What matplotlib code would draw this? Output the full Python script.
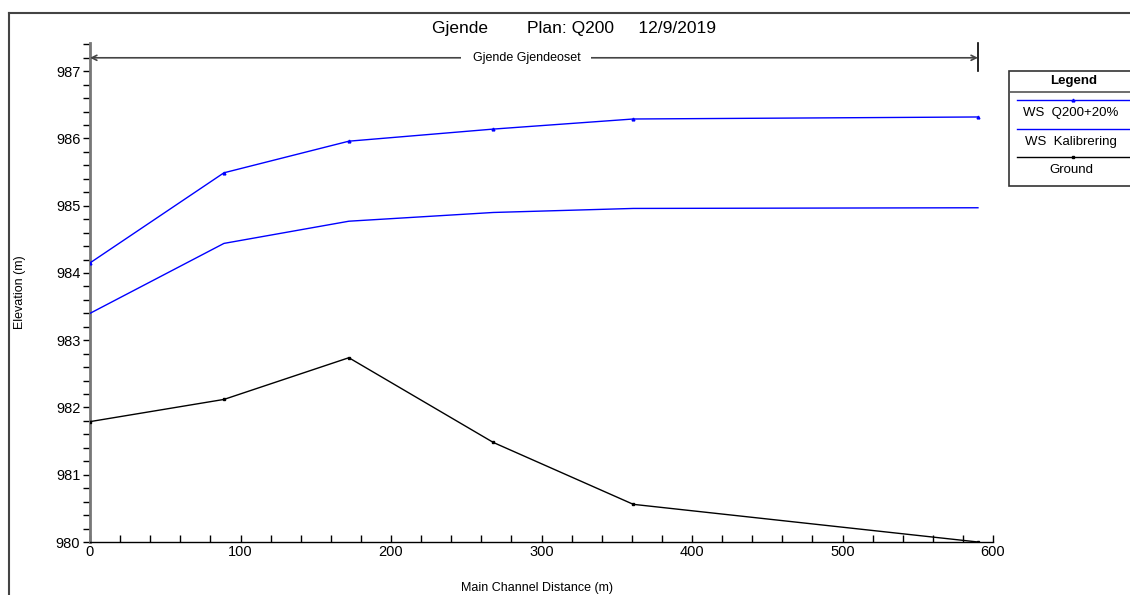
import matplotlib.pyplot as plt
from matplotlib.lines import Line2D
from matplotlib.patches import Rectangle
from matplotlib.ticker import MultipleLocator

plt.rcParams['font.family'] = ['Liberation Sans', 'DejaVu Sans']

# ----------- Profile data -----------
stations = [0, 89, 172, 268, 361, 590]
ws_q200_20 = [984.15, 985.49, 985.96, 986.14, 986.29, 986.32]
ws_kalibrering = [983.40, 984.44, 984.77, 984.90, 984.96, 984.97]
ground = [981.79, 982.12, 982.74, 981.48, 980.56, 980.00]

title = "Gjende        Plan: Q200     12/9/2019"
reach_name = "Gjende Gjendeoset"

W, H = 1130, 595
fig = plt.figure(figsize=(W / 100, H / 100), dpi=100)


def fx(px):
    return px / W


def fy(py):
    return 1 - py / H


ax = fig.add_axes([fx(90), fy(542), fx(993) - fx(90), fy(43) - fy(542)])

ax.plot(stations, ws_q200_20, color='#0000ff', lw=1.0, marker='^', ms=2, zorder=3)
ax.plot(stations, ws_kalibrering, color='#0000ff', lw=1.0, zorder=3)
ax.plot(stations, ground, color='black', lw=1.0, marker='s', ms=2, zorder=3)

ax.set_xlim(0, 600)
ax.set_ylim(980, 987.42)
ax.xaxis.set_major_locator(MultipleLocator(100))
ax.xaxis.set_minor_locator(MultipleLocator(20))
ax.yaxis.set_major_locator(MultipleLocator(1))
ax.yaxis.set_minor_locator(MultipleLocator(0.2))
ax.yaxis.set_major_formatter(lambda v, p: f"{v:.0f}")

for s in ('top', 'right'):
    ax.spines[s].set_visible(False)
ax.spines['left'].set_color('#777777')
ax.spines['left'].set_linewidth(2)
ax.spines['bottom'].set_linewidth(1)

ax.tick_params(axis='y', which='both', direction='out', length=5, width=1, labelsize=10.5, pad=2)
ax.tick_params(axis='x', which='both', direction='in', length=5, width=1, labelsize=10.5, pad=2)

ax.set_xlabel("Main Channel Distance (m)", fontsize=9)
ax.xaxis.set_label_coords((537 - 90) / (993 - 90), -(582 - 542) / (542 - 43))
ax.set_ylabel("Elevation (m)", fontsize=9)
ax.yaxis.set_label_coords(-(90 - 26) / (993 - 90), 0.5)

# reach extent arrow with name
ax.annotate('', xy=(0, 987.2), xytext=(stations[-1], 987.2),
            arrowprops=dict(arrowstyle='<->', color='#444444', lw=1.2,
                            shrinkA=0, shrinkB=0, mutation_scale=9),
            annotation_clip=False)
ax.text(290, 987.2, reach_name, fontsize=9, ha='center', va='center',
        bbox=dict(facecolor='white', edgecolor='none', pad=8), zorder=5)
ax.plot([stations[-1], stations[-1]], [987.0, 987.42], color='black', lw=1.2, clip_on=False)

fig.text(fx(574), fy(29), title, fontsize=12.5, ha='center', va='center')

# outer frame
fig.add_artist(Line2D([fx(9), 1], [fy(13), fy(13)], color='#444444', lw=1.5))
fig.add_artist(Line2D([fx(9), fx(9)], [0, fy(13)], color='#444444', lw=1.5))

# legend panel
fig.add_artist(Rectangle((fx(1009), fy(186)), fx(1135) - fx(1009), fy(71) - fy(186),
                         facecolor='white', edgecolor='#333333', lw=1.2))
fig.add_artist(Line2D([fx(1009), fx(1135)], [fy(92), fy(92)], color='#555555', lw=1.2))
fig.text(fx(1074), fy(81), "Legend", fontsize=9.5, fontweight='bold', ha='center', va='center')

entries = [
    ("WS  Q200+20%", '#0000ff', '^'),
    ("WS  Kalibrering", '#0000ff', None),
    ("Ground", 'black', 's'),
]
line_y = [100, 129, 157]
for (label, color, mk), ly in zip(entries, line_y):
    fig.add_artist(Line2D([fx(1017), fx(1135)], [fy(ly), fy(ly)], color=color, lw=1.0))
    if mk:
        fig.add_artist(Line2D([fx(1073)], [fy(ly)], color=color, marker=mk, ms=2, lw=0))
    fig.text(fx(1071), fy(ly + 13), label, fontsize=9.5, ha='center', va='center')

fig.savefig("out.png", dpi=100)
